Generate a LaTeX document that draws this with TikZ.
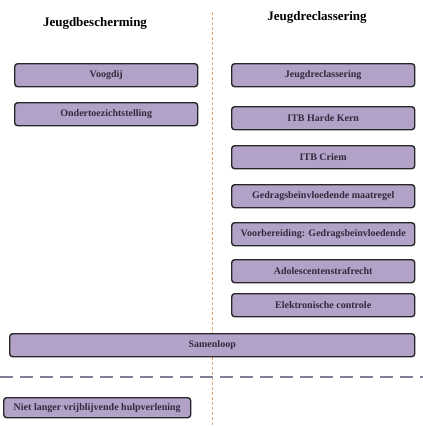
\documentclass[tikz,border=0pt]{standalone}
\usepackage{fontspec}
\setmainfont{Liberation Serif}
\definecolor{boxfill}{HTML}{B3A2C7}
\definecolor{boxdraw}{HTML}{262626}
\definecolor{boxtext}{HTML}{33283D}
\definecolor{vline}{HTML}{E9A36A}
\definecolor{hline}{HTML}{7F7F95}
\begin{document}
\begin{tikzpicture}[x=1pt,y=-1pt,
  optbox/.style={draw=boxdraw,fill=boxfill,line width=1.4pt,rounded corners=3pt,
     text=boxtext,font=\fontsize{10}{11}\selectfont\bfseries,inner sep=0pt,anchor=north west},
  heading/.style={font=\fontsize{13}{15}\selectfont\bfseries,text=black}]
\useasboundingbox (0,0) rectangle (423,426);
% vertical divider
\coordinate (vtop) at (212,12);
\coordinate (vbot) at (212,426);
\draw[vline,line width=0.7pt,dash pattern=on 3pt off 2pt] (vtop) -- (vbot);
% horizontal divider
\coordinate (hl) at (0,377);
\coordinate (hr) at (423,377);
\draw[hline,line width=1.6pt,dash pattern=on 13pt off 7pt] (hl) -- (hr);
% headings
\node[heading] (h1) at (95,23) {Jeugdbescherming};
\node[heading] (h2) at (317,17) {Jeugdreclassering};
% left boxes
\node[optbox,minimum width=183pt,minimum height=23pt] (voog) at (14,63) {Voogdij};
\node[optbox,minimum width=183pt,minimum height=23pt] (ots) at (14,102) {Ondertoezichtstelling};
% right boxes
\node[optbox,minimum width=183pt,minimum height=23pt] (jr) at (231,63) {Jeugdreclassering};
\node[optbox,minimum width=183pt,minimum height=23pt] (itbh) at (231,106) {ITB Harde Kern};
\node[optbox,minimum width=183pt,minimum height=23pt] (itbc) at (231,145) {ITB Criem};
\node[optbox,minimum width=183pt,minimum height=23pt] (gbm) at (231,184) {Gedragsbeïnvloedende maatregel};
\node[optbox,minimum width=183pt,minimum height=23pt] (vgb) at (231,222) {Voorbereiding: Gedragsbeïnvloedende};
\node[optbox,minimum width=183pt,minimum height=23pt] (ado) at (231,259) {Adolescentenstrafrecht};
\node[optbox,minimum width=183pt,minimum height=23pt] (ek) at (231,293) {Elektronische controle};
% wide box
\node[optbox,minimum width=405pt,minimum height=23pt] (sam) at (9,333) {Samenloop};
% bottom box
\node[optbox,minimum width=187pt,minimum height=20pt] (niet) at (3,397) {Niet langer vrijblijvende hulpverlening};
\end{tikzpicture}
\end{document}
